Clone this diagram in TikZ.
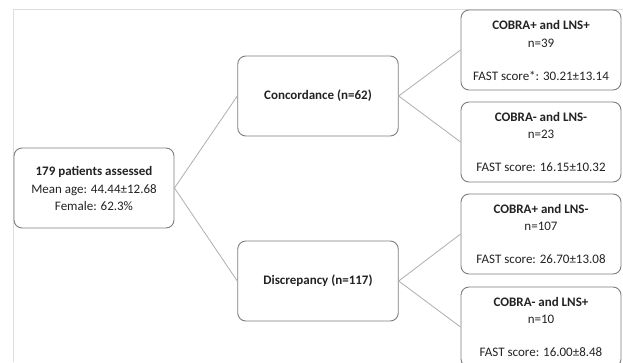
\documentclass[tikz,border=0pt]{standalone}
\usepackage{fontspec}
\setmainfont{Carlito}
\definecolor{boxline}{RGB}{125,125,125}
\definecolor{linkline}{RGB}{175,175,175}
\definecolor{frameline}{RGB}{222,222,222}
\definecolor{txt}{RGB}{35,35,35}
\begin{document}
\begin{tikzpicture}[x=1pt,y=-1pt,
  box/.style={draw=boxline,line width=0.9pt,rounded corners=8pt,fill=white,
    minimum width=160pt,minimum height=80pt,inner sep=0pt,align=center,
    text=txt,font=\fontsize{13}{17}\selectfont},
  link/.style={draw=linkline,line width=0.8pt}]
\clip (0,0) rectangle (623,362);
\useasboundingbox (0,0) rectangle (623,362);
\fill[white] (0,0) rectangle (623,362);
\draw[frameline,line width=1pt] (13,362) -- (13,9.5) -- (623,9.5);

\node[box] (root) at (94,188) {\textbf{179 patients assessed}\\[1pt]Mean age: 44.44±12.68\\Female: 62.3\%};
\node[box,minimum width=160.5pt] (conc) at (318,96) {\textbf{Concordance (n=62)}};
\node[box,minimum width=160.5pt] (disc) at (318,281) {\textbf{Discrepancy (n=117)}};

\node[box] (l1) at (541,50) {\textbf{COBRA+ and LNS+}\\[1pt]n=39\\[16pt]FAST score*: 30.21±13.14};
\node[box] (l2) at (541,142) {\textbf{COBRA- and LNS-}\\n=23\\[16pt]FAST score: 16.15±10.32};
\node[box] (l3) at (541,234) {\textbf{COBRA+ and LNS-}\\n=107\\[16pt]FAST score: 26.70±13.08};
\node[box] (l4) at (541,327) {\textbf{COBRA- and LNS+}\\n=10\\[16pt]FAST score: 16.00±8.48};

\draw[link] (root.east) -- (conc.west);
\draw[link] (root.east) -- (disc.west);
\draw[link] (conc.east) -- (l1.west);
\draw[link] (conc.east) -- (l2.west);
\draw[link] (disc.east) -- (l3.west);
\draw[link] (disc.east) -- (l4.west);
\end{tikzpicture}
\end{document}
